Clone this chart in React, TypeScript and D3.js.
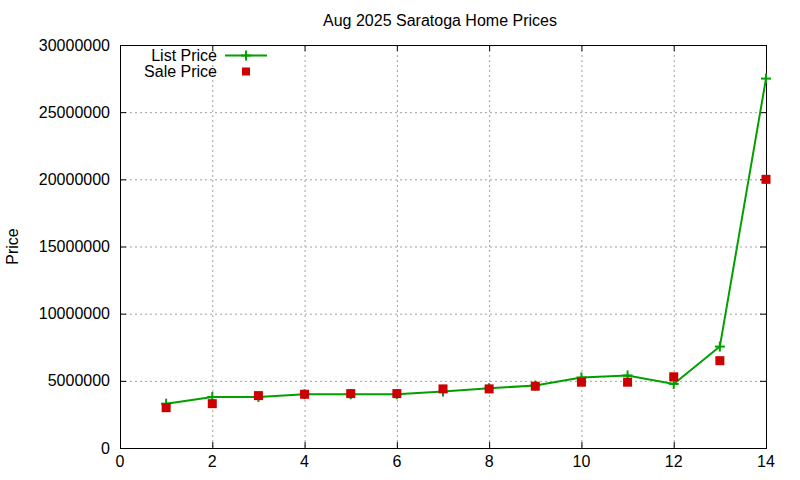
import React, { useEffect, useRef } from 'react';
import * as d3 from 'd3';

// data
const months = [1, 2, 3, 4, 5, 6, 7, 8, 9, 10, 11, 12, 13, 14];
const listPrices = [3300000, 3800000, 3800000, 4000000, 4000000, 4000000, 4200000, 4450000, 4650000, 5250000, 5400000, 4770000, 7550000, 27500000];
const salePrices = [3000000, 3300000, 3900000, 4000000, 4050000, 4050000, 4400000, 4400000, 4600000, 4900000, 4900000, 5300000, 6500000, 20000000];
const xTicks = [0, 2, 4, 6, 8, 10, 12, 14];
const yTicks = [0, 5000000, 10000000, 15000000, 20000000, 25000000, 30000000];

const App: React.FC = () => {
  const svgRef = useRef<SVGSVGElement>(null);
  const width = 800;
  const height = 480;

  useEffect(() => {
    if (!svgRef.current) return;
    const svg = d3.select(svgRef.current);
    svg.selectAll('*').remove();

    const margin = { top: 45, right: 34, bottom: 32, left: 120 };
    const left = margin.left;
    const right = width - margin.right;
    const top = margin.top;
    const bottom = height - margin.bottom;
    const font = 'Liberation Sans, Arial, sans-serif';
    const fontSize = '16px';

    const x = d3.scaleLinear().domain([0, 14]).range([left, right]);
    const y = d3.scaleLinear().domain([0, 30000000]).range([bottom, top]);

    svg.append('rect').attr('width', width).attr('height', height).attr('fill', '#fff');

    // grid
    const grid = svg.append('g').attr('stroke', '#a0a0a0').attr('stroke-dasharray', '2,3').attr('stroke-width', 1);
    xTicks.filter(t => t > 0 && t < 14).forEach(t => {
      grid.append('line').attr('x1', x(t) + 0.5).attr('x2', x(t) + 0.5).attr('y1', top).attr('y2', bottom);
    });
    yTicks.filter(t => t > 0 && t < 30000000).forEach(t => {
      grid.append('line').attr('x1', left).attr('x2', right).attr('y1', y(t) + 0.5).attr('y2', y(t) + 0.5);
    });

    // tick marks (inward, mirrored)
    const ticks = svg.append('g').attr('stroke', '#000').attr('stroke-width', 1);
    xTicks.forEach(t => {
      ticks.append('line').attr('x1', x(t) + 0.5).attr('x2', x(t) + 0.5).attr('y1', bottom).attr('y2', bottom - 6);
      ticks.append('line').attr('x1', x(t) + 0.5).attr('x2', x(t) + 0.5).attr('y1', top).attr('y2', top + 6);
    });
    yTicks.forEach(t => {
      ticks.append('line').attr('x1', left).attr('x2', left + 6).attr('y1', y(t) + 0.5).attr('y2', y(t) + 0.5);
      ticks.append('line').attr('x1', right).attr('x2', right - 6).attr('y1', y(t) + 0.5).attr('y2', y(t) + 0.5);
    });

    svg.append('rect')
      .attr('x', left + 0.5).attr('y', top + 0.5)
      .attr('width', right - left).attr('height', bottom - top)
      .attr('fill', 'none').attr('stroke', '#000').attr('stroke-width', 1);

    // tick labels
    svg.append('g').selectAll('text').data(xTicks).enter().append('text')
      .attr('x', d => x(d)).attr('y', bottom + 19)
      .attr('text-anchor', 'middle').style('font-family', font).style('font-size', fontSize)
      .text(d => d);
    svg.append('g').selectAll('text').data(yTicks).enter().append('text')
      .attr('x', left - 10).attr('y', d => y(d) + 5.5)
      .attr('text-anchor', 'end').style('font-family', font).style('font-size', fontSize)
      .text(d => String(d));

    // title and axis label
    svg.append('text')
      .attr('x', 440).attr('y', 26).attr('text-anchor', 'middle')
      .style('font-family', font).style('font-size', fontSize)
      .text('Aug 2025 Saratoga Home Prices');
    svg.append('text')
      .attr('transform', `translate(18, ${(top + bottom) / 2}) rotate(-90)`)
      .attr('text-anchor', 'middle')
      .style('font-family', font).style('font-size', fontSize)
      .text('Price');

    const green = '#00a000';
    const red = '#cc0000';

    // list price line
    const line = d3.line<number>()
      .x((_d, i) => x(months[i]))
      .y(d => y(d));
    svg.append('path').datum(listPrices)
      .attr('d', line)
      .attr('fill', 'none').attr('stroke', green).attr('stroke-width', 2);

    const plus = (g: d3.Selection<SVGGElement, unknown, null, undefined>, cx: number, cy: number) => {
      g.append('line').attr('x1', cx - 5).attr('x2', cx + 5).attr('y1', cy).attr('y2', cy);
      g.append('line').attr('x1', cx).attr('x2', cx).attr('y1', cy - 5).attr('y2', cy + 5);
    };
    const plusG = svg.append('g').attr('stroke', green).attr('stroke-width', 2);
    listPrices.forEach((v, i) => plus(plusG, x(months[i]), y(v)));

    // sale price squares
    svg.append('g').selectAll('rect').data(salePrices).enter().append('rect')
      .attr('x', (_d, i) => x(months[i]) - 4.5)
      .attr('y', d => y(d) - 4.5)
      .attr('width', 9).attr('height', 9)
      .attr('fill', red);

    // legend
    svg.append('text').attr('x', 217).attr('y', 61).attr('text-anchor', 'end')
      .style('font-family', font).style('font-size', fontSize).text('List Price');
    svg.append('line').attr('x1', 225).attr('x2', 267).attr('y1', 55.5).attr('y2', 55.5)
      .attr('stroke', green).attr('stroke-width', 2);
    plus(plusG, 246, 55.5);
    svg.append('text').attr('x', 217).attr('y', 77).attr('text-anchor', 'end')
      .style('font-family', font).style('font-size', fontSize).text('Sale Price');
    svg.append('rect').attr('x', 242).attr('y', 67.5).attr('width', 8).attr('height', 8).attr('fill', red);
  }, []);

  return (
    <svg
      ref={svgRef}
      width={width}
      height={height}
      style={{ position: 'absolute', left: 0, top: 0 }}
    />
  );
};

export default App;
